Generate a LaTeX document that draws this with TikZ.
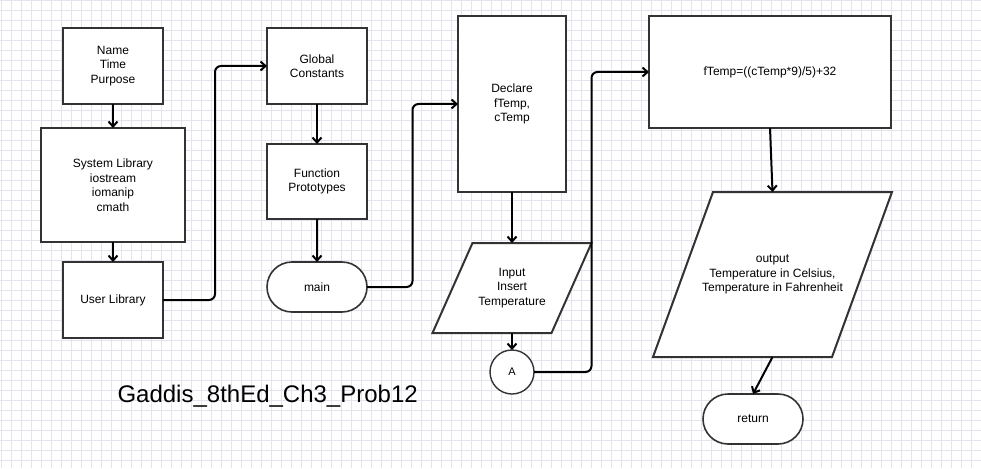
\documentclass[tikz,border=0pt]{standalone}
\usepackage{fontspec}
\setmainfont{Liberation Sans}
\usepackage{tikz}
\usetikzlibrary{arrows.meta}
\usetikzlibrary{positioning}
\usetikzlibrary{shapes.misc}
\usetikzlibrary{calc}
\definecolor{gridcol}{HTML}{E4E4EE}
\definecolor{edgecol}{HTML}{333333}
\pgfdeclarelayer{gridlayer}
\pgfdeclarelayer{shapelayer}
\pgfsetlayers{gridlayer,shapelayer,main}
\tikzstyle{box}=[draw=edgecol,fill=white,line width=2pt,rectangle,inner sep=0pt,outer sep=0pt,align=center,font=\fontsize{12}{14.5}\selectfont]
\tikzstyle{term}=[box,rounded rectangle,line width=1.6pt]
\tikzstyle{io}=[box,draw=none,fill=none]
\tikzstyle{conn}=[box,circle,line width=1.4pt,minimum size=44pt,font=\fontsize{11}{13}\selectfont]
\tikzstyle{ioline}=[draw=edgecol,fill=white,line width=2pt]
\tikzstyle{flow}=[draw=black,line width=2pt,->,>={Straight Barb[length=5pt,width=9pt]}]

\begin{document}
\begin{tikzpicture}[x=1pt,y=-1pt]
\useasboundingbox (0,0) rectangle (981,468);
% grid
\begin{pgfonlayer}{gridlayer}
\fill[white] (0,0) rectangle (981,468);
\foreach \gx in {1.7,11.7,...,981} \draw[gridcol,line width=0.6pt] (\gx,0) -- (\gx,468);
\foreach \gy in {0,10,...,468} \draw[gridcol,line width=0.6pt] (0,\gy) -- (981,\gy);
\end{pgfonlayer}

% first column
\node [box,minimum width=100pt,minimum height=76pt] (name) at (113,66) {Name\\Time\\Purpose};
\node [box,minimum width=144pt,minimum height=114pt,below=24pt of name] (syslib) {System Library\\iostream\\iomanip\\cmath};
\node [box,minimum width=100pt,minimum height=76pt,below=20pt of syslib] (userlib) {User Library};

% second column
\node [box,minimum width=100pt,minimum height=76pt] (global) at (317,66) {Global\\Constants};
\node [box,minimum width=100pt,minimum height=75pt,below=40pt of global] (proto) {Function\\Prototypes};
\node [term,minimum width=100pt,minimum height=50pt,below=43pt of proto] (main) {main};

% third column
\node [box,minimum width=108pt,minimum height=176pt] (declare) at (512,104) {Declare\\fTemp,\\cTemp};
\node [io,minimum width=159pt,minimum height=90pt,below=51pt of declare] (input) {Input\\Insert\\Temperature};
\node [conn,below=17pt of input] (A) {A};

% fourth column
\node [box,minimum width=242pt,minimum height=112pt] (calc) at (770,72) {fTemp=((cTemp*9)/5)+32};
\node [io,minimum width=239pt,minimum height=165pt] (output) at (772.5,274.5) {output\\Temperature in Celsius,\\Temperature in Fahrenheit};
\node [term,minimum width=100pt,minimum height=50pt] (ret) at (753,419) {return};

\node [anchor=base west,font=\fontsize{24}{28}\selectfont] (title) at (114,402) {Gaddis\_8thEd\_Ch3\_Prob12};

% parallelograms
\begin{pgfonlayer}{shapelayer}
\draw[ioline] ([xshift=40pt]input.north west) -- (input.north east) -- ([xshift=-40pt]input.south east) -- (input.south west) -- cycle;
\draw[ioline] ([xshift=60pt]output.north west) -- (output.north east) -- ([xshift=-60pt]output.south east) -- (output.south west) -- cycle;
\end{pgfonlayer}

\draw[flow] (name) -- (syslib);
\draw[flow] (syslib) -- (userlib);
\draw[flow,rounded corners=6pt] (userlib.east) -- ++(52,0) |- (global.west);
\draw[flow] (global) -- (proto);
\draw[flow] (proto) -- (main);
\draw[flow,rounded corners=6pt] (main.east) -- ++(45.5,0) |- (declare.west);
\draw[flow] (declare) -- (input);
\draw[flow] (input) -- (A);
\draw[flow,rounded corners=6pt] (A.east) -- ++(57.5,0) |- (calc.west);
\draw[flow] (calc.south) -- (output.north);
\draw[flow] (output.south) -- (ret.north);
\end{tikzpicture}
\end{document}
